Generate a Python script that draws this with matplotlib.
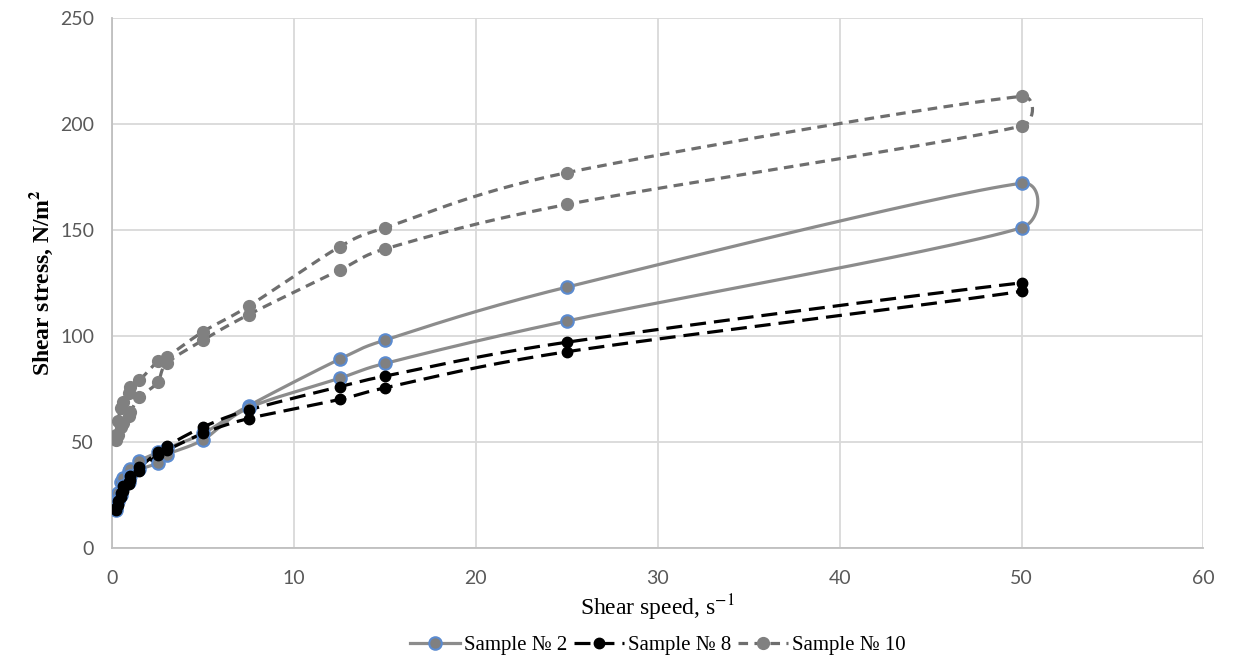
import numpy as np
import matplotlib
matplotlib.use('Agg')
import matplotlib.pyplot as plt

plt.rcParams['mathtext.fontset'] = 'stix'

# shear speeds, s^-1 (up branch, then back down)
speed = [0.2, 0.3, 0.5, 0.6, 0.9, 1.0, 1.5, 2.5, 3.0, 5.0, 7.5, 12.5, 15, 25, 50]

s2_up = [19, 26, 31, 33, 36, 37, 41, 45, 47, 54, 67, 89, 98, 123, 172]
s2_down = [18, 22, 25, 29, 31, 34, 37, 40, 44, 51, 66, 80, 87, 107, 151]

s8_up = [19, 22, 26, 29, 31, 34, 38, 45, 48, 57, 65, 76, 81, 97, 125]
s8_down = [18, 20, 24, 27, 30, 32, 36, 44, 46, 54, 61, 70, 75.5, 92.5, 121]

s10_up = [53, 60, 66, 69, 73, 76, 79, 88, 90, 102, 114, 142, 151, 177, 213]
s10_down = [51, 53, 57, 59, 62, 64, 71, 78, 87, 98, 110, 131, 141, 162, 199]

labels = ['Sample № 2', 'Sample № 8', 'Sample № 10']

XMAX, YMAX = 60, 250

fig = plt.figure(figsize=(12.33, 6.64), dpi=100)
ax = fig.add_axes([0.091, 0.175, 0.885, 0.798])


def smooth(xs, ys, w, h, k=0.5, n=30):
    # Excel-like smoothed line: Catmull-Rom beziers in screen space,
    # control arms clamped to a fraction of the segment length
    p = np.column_stack([np.array(xs) / XMAX * w, np.array(ys) / YMAX * h])
    out = []
    for i in range(len(p) - 1):
        p0 = p[i - 1] if i > 0 else p[i]
        p3 = p[i + 2] if i + 2 < len(p) else p[i + 1]
        seg = np.linalg.norm(p[i + 1] - p[i])
        d1 = p[i + 1] - p0
        d2 = p3 - p[i]
        l1 = min(k * seg, np.linalg.norm(d1) / 6)
        l2 = min(k * seg, np.linalg.norm(d2) / 6)
        c1 = p[i] + d1 / (np.linalg.norm(d1) or 1) * l1
        c2 = p[i + 1] - d2 / (np.linalg.norm(d2) or 1) * l2
        t = np.linspace(0, 1, n)[:, None]
        out.append((1 - t) ** 3 * p[i] + 3 * (1 - t) ** 2 * t * c1
                   + 3 * (1 - t) * t ** 2 * c2 + t ** 3 * p[i + 1])
    out = np.vstack(out)
    return out[:, 0] / w * XMAX, out[:, 1] / h * YMAX


W, H = 1090, 530
loop_x = speed + speed[::-1]

styles = [
    (s2_up, s2_down, dict(color='#8c8c8c', lw=2.3, ls='-'),
     dict(marker='o', ms=9, mfc='#808080', mec='#5b8bd0', mew=1.5)),
    (s8_up, s8_down, dict(color='black', lw=2.3, ls=(0, (5, 2.5))),
     dict(marker='o', ms=7.5, mfc='black', mec='black', mew=1)),
    (s10_up, s10_down, dict(color='#6e6e6e', lw=2.3, ls=(0, (3, 2))),
     dict(marker='o', ms=8.5, mfc='#808080', mec='#808080', mew=1)),
]

for (up, down, lstyle, mstyle), lab in zip(styles, labels):
    loop_y = up + down[::-1]
    sx, sy = smooth(loop_x, loop_y, W, H)
    ax.plot(sx, sy, zorder=2, **lstyle)
    ax.plot(loop_x, loop_y, ls='none', zorder=3, **mstyle)
    ax.plot([], [], label=lab, **lstyle, **mstyle)

ax.set_xlim(0, XMAX)
ax.set_ylim(0, YMAX)
ax.set_xticks(range(0, 61, 10))
ax.set_yticks(range(0, 251, 50))
ax.grid(True, color='#d9d9d9', lw=1.3)
ax.set_axisbelow(True)
for s in ['top', 'right']:
    ax.spines[s].set_visible(False)
for s in ['left', 'bottom']:
    ax.spines[s].set_color('#bfbfbf')
    ax.spines[s].set_linewidth(1.3)
ax.tick_params(length=0, labelsize=14, colors='#595959')
ax.tick_params(axis='x', pad=16)
ax.tick_params(axis='y', pad=13)
for t in ax.get_xticklabels() + ax.get_yticklabels():
    t.set_family('Lato')

ax.set_xlabel('Shear speed, s$^{-1}$', family='Liberation Serif', fontsize=17, labelpad=4)
ax.set_ylabel('Shear stress, N/m$^{\\mathbf{2}}$', family='Liberation Serif', fontsize=17,
              fontweight='bold', labelpad=4)

ax.legend(loc='upper center', bbox_to_anchor=(0.5, -0.13), ncol=3, frameon=False,
          prop={'family': 'Liberation Serif', 'size': 15}, handlelength=2.4,
          columnspacing=0.3, handletextpad=0.2)

fig.savefig('out.png', dpi=100)
